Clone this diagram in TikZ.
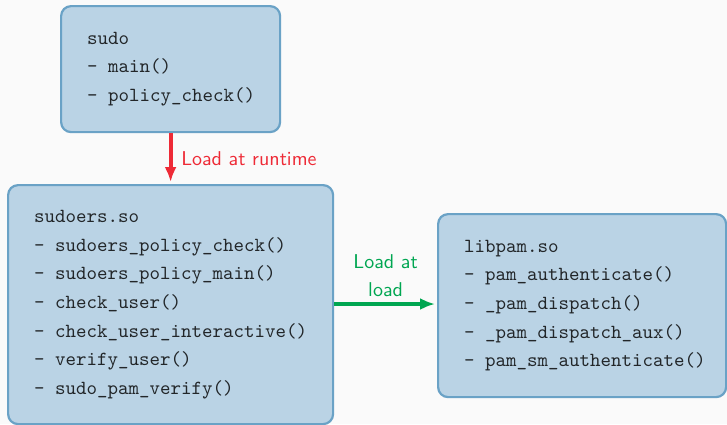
\documentclass[tikz,border=0pt]{standalone}
\usetikzlibrary{arrows.meta}
\definecolor{pagebg}{HTML}{FAFAFA}
\definecolor{boxfill}{HTML}{BAD3E5}
\definecolor{boxline}{HTML}{6AA2C6}
\definecolor{boxtext}{HTML}{222629}
\definecolor{loadred}{HTML}{EE2A36}
\definecolor{loadgreen}{HTML}{00A651}
% a list entry: dash plus one monospace cell, never broken
\newcommand\fnitem{-\nobreak\hspace{0.525em}\nobreak}
\begin{document}
\begin{tikzpicture}[x=0.5pt, y=-0.5pt,
  modbox/.style={draw=boxline, fill=boxfill, line width=1.1pt, rounded corners=5pt,
    align=left, text=boxtext, inner xsep=13pt, inner ysep=0pt,
    font=\ttfamily\fontsize{10}{14.3}\selectfont, anchor=north west},
  loadarrow/.style={line width=2pt, -{Latex[length=7.5pt, width=6pt]}},
  loadlabel/.style={font=\sffamily\fontsize{10}{14}\selectfont, align=center}]
  \useasboundingbox[fill=pagebg] (0,0) rectangle (727,424);

  % the sudo front end
  \node[modbox, text width=83.5pt, minimum height=63pt] (sudo) at (60,5)
    {sudo\\\fnitem main()\\\fnitem policy\_check()};

  % the sudoers policy plugin
  \node[modbox, text width=136.5pt, minimum height=119.5pt] (sudoers) at (7,184)
    {sudoers.so\\\fnitem sudoers\_policy\_check()\\\fnitem sudoers\_policy\_main()\\\fnitem check\_user()\\\fnitem check\_user\_interactive()\\\fnitem verify\_user()\\\fnitem sudo\_pam\_verify()};

  % the PAM library
  \node[modbox, text width=118pt, minimum height=91.5pt] (libpam) at (437,213)
    {libpam.so\\\fnitem pam\_authenticate()\\\fnitem \_pam\_dispatch()\\\fnitem \_pam\_dispatch\_aux()\\\fnitem pam\_sm\_authenticate()};

  \draw[loadarrow, loadred, shorten >=1pt] (sudo.south) -- (sudoers.north)
    node[midway, right, loadlabel, text=loadred, xshift=1pt] (rtlabel) {Load at runtime};

  \draw[loadarrow, loadgreen, shorten >=1pt] (sudoers.east |- 0,304) -- (libpam.west |- 0,304)
    node[midway, above, loadlabel, text=loadgreen, yshift=-0.5pt] (ldlabel) {Load at\\load};
\end{tikzpicture}
\end{document}
